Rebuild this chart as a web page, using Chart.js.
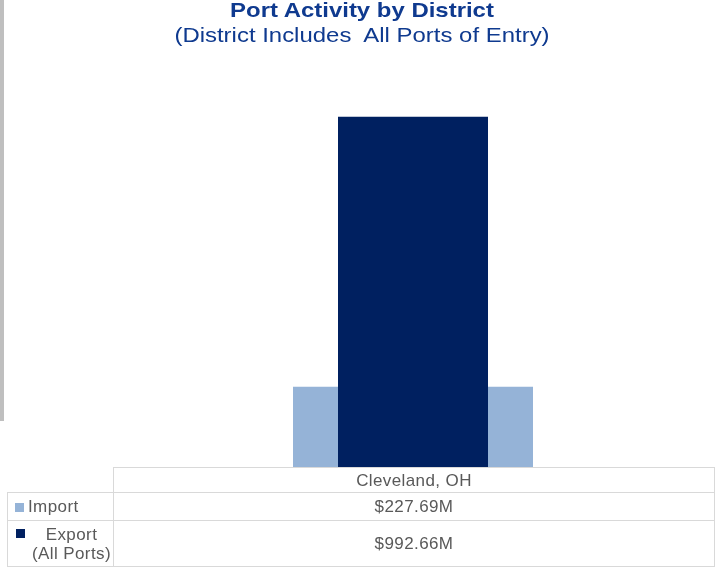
<!DOCTYPE html>
<html>
<head>
<meta charset="utf-8">
<script src="https://cdn.jsdelivr.net/npm/chart.js@4"></script>
<style>
  html, body { margin: 0; padding: 0; background: #fff; }
  body { width: 718px; height: 571px; position: relative; overflow: hidden; font-family: "Liberation Sans", Arial, sans-serif; }
  #sidebar { position: absolute; left: 0; top: 0; width: 4px; height: 421px; background: #bfbfbf; }
  #wrap { position: absolute; left: 0; top: 0; width: 718px; height: 571px; }
  .title { position: absolute; left: 0; width: 724px; text-align: center; color: #0f3a8f; font-size: 21px; line-height: 22px; transform: scaleX(1.14); transform-origin: 362px 0; }
  #t1 { top: -1px; font-weight: bold; }
  #t2 { top: 24px; }
  table { position: absolute; left: 7px; top: 467px; border-collapse: collapse; table-layout: fixed; width: 707px; color: #595959; font-size: 17px; letter-spacing: 0.4px; }
  td { border: 1px solid #d9d9d9; padding: 0; text-align: center; line-height: 19px; }
  td.blank { border-top: none; border-left: none; }
  td.lbl { text-align: left; padding-left: 7px; }
  .key { display: inline-block; width: 9px; height: 9px; margin-right: 4px; }
</style>
</head>
<body>
<div id="sidebar"></div>
<div id="wrap"><canvas id="portChart" width="718" height="571"></canvas></div>
<div class="title" id="t1">Port Activity by District</div>
<div class="title" id="t2">(District Includes&nbsp; All Ports of Entry)</div>
<table id="dataTable">
  <colgroup><col style="width:106px"><col style="width:601px"></colgroup>
  <tbody id="tableBody"></tbody>
</table>
<script>
// -------------------------
// Data
// -------------------------
const districts = ["Cleveland, OH"];
const importValues = [227.69];
const exportValues = [992.66];
const seriesLabels = ["Import", "Export<br>(All Ports)"];
const seriesColors = ["#95b3d7", "#002060"];

const fmt = v => `$${v.toFixed(2)}M`;

// -------------------------
// Overlapping bars
// -------------------------
new Chart(document.getElementById("portChart"), {
  type: "bar",
  data: {
    labels: districts,
    datasets: [
      { label: "Import", data: importValues, backgroundColor: seriesColors[0], barPercentage: 0.4, order: 2 },
      { label: "Export (All Ports)", data: exportValues, backgroundColor: seriesColors[1], barPercentage: 0.25, order: 1 },
    ],
  },
  options: {
    responsive: false,
    animation: false,
    layout: { padding: { left: 113, right: 5, top: 79, bottom: 104 } },
    datasets: { bar: { grouped: false, categoryPercentage: 1 } },
    plugins: { legend: { display: false }, tooltip: { enabled: false } },
    scales: {
      x: { display: false },
      y: { display: false, min: 0, max: 1100 },
    },
  },
});

// -------------------------
// Data table under the chart
// -------------------------
const tbody = document.getElementById("tableBody");
const head = document.createElement("tr");
head.style.height = "25px";
head.innerHTML = `<td class="blank"></td>` + districts.map(d => `<td>${d}</td>`).join("");
tbody.appendChild(head);

[importValues, exportValues].forEach((vals, i) => {
  const tr = document.createElement("tr");
  tr.style.height = i === 0 ? "28px" : "46px";
  const label = i === 0
    ? `<td class="lbl"><span class="key" style="background:${seriesColors[0]}"></span>${seriesLabels[0]}</td>`
    : `<td class="lbl" style="position:relative;text-align:center;padding-left:22px;"><span class="key" style="position:absolute;left:8px;top:8px;background:${seriesColors[1]}"></span>${seriesLabels[1]}</td>`;
  tr.innerHTML = label + vals.map(v => `<td>${fmt(v)}</td>`).join("");
  tbody.appendChild(tr);
});
</script>
</body>
</html>
